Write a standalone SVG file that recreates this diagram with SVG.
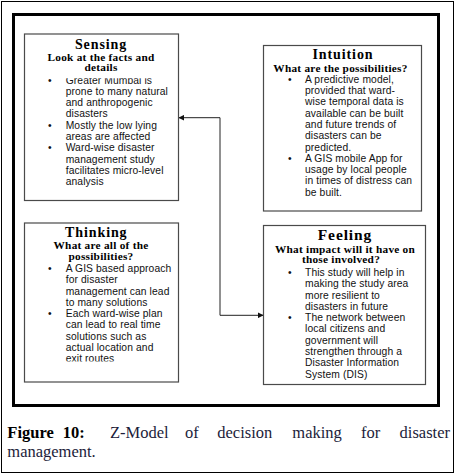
<svg xmlns="http://www.w3.org/2000/svg" width="455" height="474" viewBox="0 0 455 474">
<style>
.box{fill:#fff;stroke:#4a4a4a;stroke-width:1.2}
.ttl{font-family:"Liberation Serif",serif;font-weight:bold;font-size:14px;letter-spacing:0.9px;text-anchor:middle;fill:#000}
.sub{font-family:"Liberation Serif",serif;font-weight:bold;font-size:11.3px;letter-spacing:0.25px;text-anchor:middle;fill:#000}
.b{font-family:"Liberation Sans",sans-serif;font-size:10.3px;letter-spacing:0.1px;fill:#111}
.cap{font-family:"Liberation Serif",serif;font-size:16.5px;fill:#1c1c3a}
.capb{font-family:"Liberation Serif",serif;font-size:16.5px;font-weight:bold;fill:#000}
.conn{fill:none;stroke:#222;stroke-width:1}
</style>
<defs>
<marker id="ah" viewBox="0 0 10 10" refX="9" refY="5" markerWidth="6" markerHeight="6" markerUnits="userSpaceOnUse" orient="auto-start-reverse">
<path d="M0,0 L10,5 L0,10 z" fill="#111"/>
</marker>
<clipPath id="clipTop"><rect x="0" y="78.3" width="455" height="400"/></clipPath>
<clipPath id="clipBot"><rect x="0" y="0" width="455" height="361.6"/></clipPath>
</defs>
<rect x="0" y="0" width="455" height="474" fill="#fff"/>
<rect x="1.5" y="1.5" width="452" height="471" fill="none" stroke="#000" stroke-width="1"/>
<rect x="13.5" y="14.5" width="425" height="391" fill="none" stroke="#000" stroke-width="3"/>

<g id="connectors">
<path class="conn" d="M179,117.7 H220 V315.3 H263" marker-start="url(#ah)" marker-end="url(#ah)"/>
</g>

<g id="sensing">
<rect class="box" x="24.5" y="34" width="154" height="166.5"/>
<text class="ttl" x="101" y="48.6">Sensing</text>
<text class="sub" x="101" y="60.5">Look at the facts and</text>
<text class="sub" x="101" y="71.1">details</text>
<text class="b" x="48" y="83.5" clip-path="url(#clipTop)">•</text>
<text class="b" x="65.7" y="83.5" clip-path="url(#clipTop)">Greater Mumbai is</text>
<text class="b" x="65.7" y="94.7">prone to many natural</text>
<text class="b" x="65.7" y="106">and anthropogenic</text>
<text class="b" x="65.7" y="117.3">disasters</text>
<text class="b" x="48" y="128.6">•</text>
<text class="b" x="65.7" y="128.6">Mostly the low lying</text>
<text class="b" x="65.7" y="139.9">areas are affected</text>
<text class="b" x="48" y="151.2">•</text>
<text class="b" x="65.7" y="151.2">Ward-wise disaster</text>
<text class="b" x="65.7" y="162.5">management study</text>
<text class="b" x="65.7" y="173.8">facilitates micro-level</text>
<text class="b" x="65.7" y="185.1">analysis</text>
</g>

<g id="intuition">
<rect class="box" x="263.5" y="45.5" width="158" height="165.5"/>
<text class="ttl" x="343" y="59">Intuition</text>
<text class="sub" x="340.5" y="71.7">What are the possibilities?</text>
<text class="b" x="288" y="82.9">•</text>
<text class="b" x="305" y="82.9">A predictive model,</text>
<text class="b" x="305" y="94.1">provided that ward-</text>
<text class="b" x="305" y="105.4">wise temporal data is</text>
<text class="b" x="305" y="116.7">available can be built</text>
<text class="b" x="305" y="128">and future trends of</text>
<text class="b" x="305" y="139.2">disasters can be</text>
<text class="b" x="305" y="150.5">predicted.</text>
<text class="b" x="288" y="161.8">•</text>
<text class="b" x="305" y="161.8">A GIS mobile App for</text>
<text class="b" x="305" y="173.1">usage by local people</text>
<text class="b" x="305" y="184.4">in times of distress can</text>
<text class="b" x="305" y="195.7">be built.</text>
</g>

<g id="thinking">
<rect class="box" x="24.5" y="223" width="154" height="159"/>
<text class="ttl" x="96.3" y="237">Thinking</text>
<text class="sub" x="101" y="248.9">What are all of the</text>
<text class="sub" x="101" y="260.2">possibilities?</text>
<text class="b" x="48" y="271.9">•</text>
<text class="b" x="65.7" y="271.9">A GIS based approach</text>
<text class="b" x="65.7" y="283.2">for disaster</text>
<text class="b" x="65.7" y="294.5">management can lead</text>
<text class="b" x="65.7" y="305.8">to many solutions</text>
<text class="b" x="48" y="317">•</text>
<text class="b" x="65.7" y="317">Each ward-wise plan</text>
<text class="b" x="65.7" y="328.3">can lead to real time</text>
<text class="b" x="65.7" y="339.6">solutions such as</text>
<text class="b" x="65.7" y="350.9">actual location and</text>
<text class="b" x="65.7" y="362.1" clip-path="url(#clipBot)">exit routes</text>
</g>

<g id="feeling">
<rect class="box" x="263.5" y="225.5" width="162" height="159"/>
<text class="ttl" x="345" y="240.3" style="font-size:15.5px">Feeling</text>
<text class="sub" x="345" y="252.6">What impact will it have on</text>
<text class="sub" x="341" y="263.2">those involved?</text>
<text class="b" x="288" y="275.9">•</text>
<text class="b" x="305" y="275.9">This study will help in</text>
<text class="b" x="305" y="287.2">making the study area</text>
<text class="b" x="305" y="298.5">more resilient to</text>
<text class="b" x="305" y="309.8">disasters in future</text>
<text class="b" x="288" y="321">•</text>
<text class="b" x="305" y="321">The network between</text>
<text class="b" x="305" y="332.3">local citizens and</text>
<text class="b" x="305" y="343.6">government will</text>
<text class="b" x="305" y="354.9">strengthen through a</text>
<text class="b" x="305" y="366.2">Disaster Information</text>
<text class="b" x="305" y="377.5">System (DIS)</text>
</g>

<g id="caption">
<text class="capb" x="7.3" y="438.3">Figure</text>
<text class="capb" x="62.7" y="438.3">10:</text>
<text class="cap" x="110" y="438.3">Z-Model</text>
<text class="cap" x="185" y="438.3">of</text>
<text class="cap" x="217.3" y="438.3">decision</text>
<text class="cap" x="292.3" y="438.3">making</text>
<text class="cap" x="361" y="438.3">for</text>
<text class="cap" x="450" y="438.3" text-anchor="end">disaster</text>
<text class="cap" x="7.3" y="456.7">management.</text>
</g>
</svg>
